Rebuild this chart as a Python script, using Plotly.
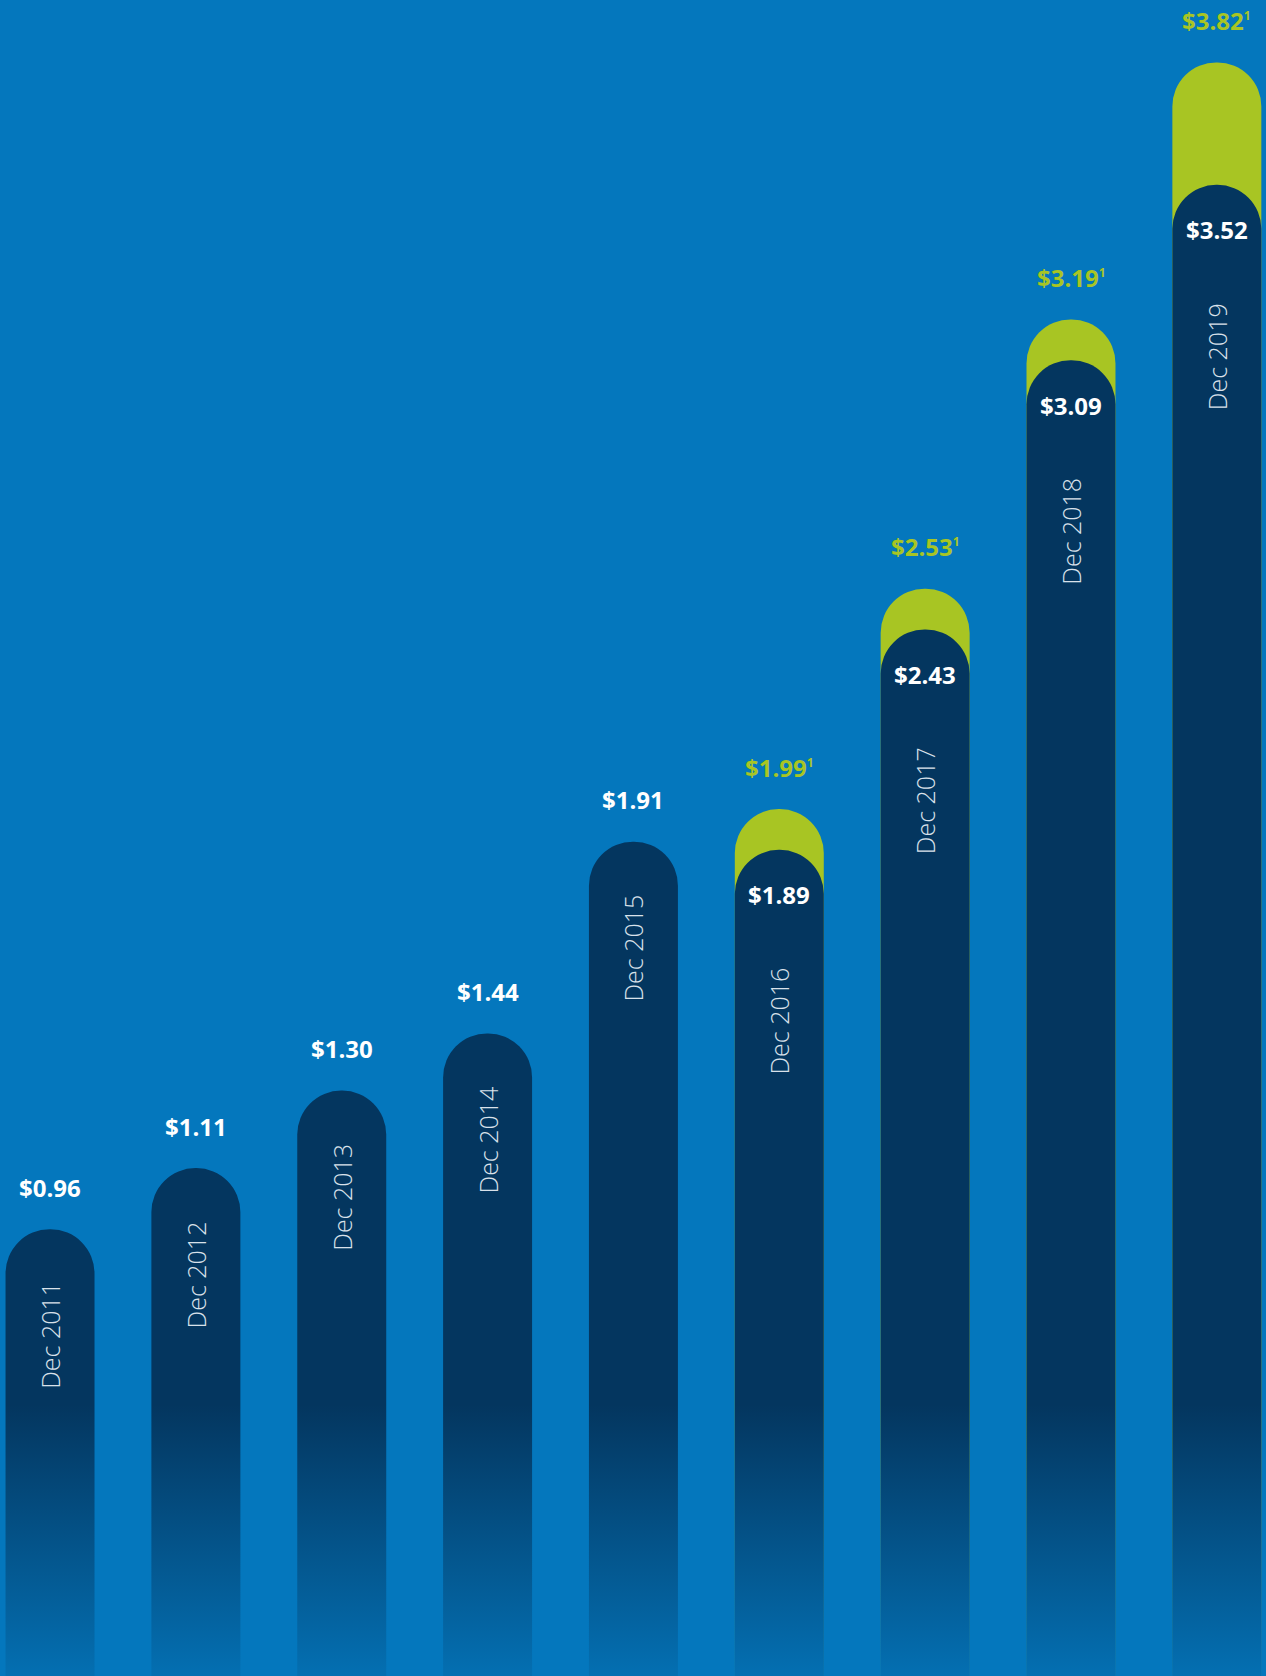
import plotly.graph_objects as go

# ---- data ----
categories = ["Dec 2011", "Dec 2012", "Dec 2013", "Dec 2014", "Dec 2015",
              "Dec 2016", "Dec 2017", "Dec 2018", "Dec 2019"]
reported = [0.96, 1.11, 1.30, 1.44, 1.91, 1.89, 2.43, 3.09, 3.52]
adjusted = [None, None, None, None, None, 1.99, 2.53, 3.19, 3.82]

# ---- style ----
BG = "#0477BD"
NAVY = "#04365F"
GREEN = "#A8C523"
W, H = 1266, 1676
Y_MIN, Y_MAX = -0.135, 3.973
X_MIN, X_MAX = -0.343, 8.337
BAR_W = 0.61
BASE = -1.0
FONT = "Open Sans"

idx = list(range(len(categories)))

fig = go.Figure()

# green (adjusted) bars behind
gx = [i for i, v in zip(idx, adjusted) if v is not None]
gy = [v for v in adjusted if v is not None]
fig.add_trace(go.Bar(
    x=gx, y=[v - BASE for v in gy], base=BASE, width=BAR_W,
    marker=dict(color=GREEN, line=dict(width=0), cornerradius="50%"),
    hoverinfo="skip", showlegend=False,
))
# navy bars
fig.add_trace(go.Bar(
    x=idx, y=[v - BASE for v in reported], base=BASE, width=BAR_W,
    marker=dict(color=NAVY, line=dict(width=0), cornerradius="50%"),
    hoverinfo="skip", showlegend=False,
))

# bottom fade overlay (gradient toward background)
fade_top = 0.53
fig.add_trace(go.Scatter(
    x=[X_MIN, X_MAX, X_MAX, X_MIN, X_MIN],
    y=[Y_MIN, Y_MIN, fade_top, fade_top, Y_MIN],
    mode="lines", line=dict(width=0), fill="toself",
    fillgradient=dict(type="vertical",
                      colorscale=[[0, "rgba(4,119,189,0.88)"],
                                  [1, "rgba(4,119,189,0)"]]),
    hoverinfo="skip", showlegend=False,
))

SUP = "<sup><span style='font-size:12px'>1</span></sup>"
annotations = []
for i, cat, r, a in zip(idx, categories, reported, adjusted):
    if a is None:
        annotations.append(dict(
            x=i, y=r, text=f"${r:.2f}", showarrow=False, yanchor="middle",
            yshift=42, font=dict(family=FONT, size=24, color="white", weight="bold")))
        annotations.append(dict(
            x=i, y=r, text=cat, showarrow=False, textangle=-90,
            yanchor="top", yshift=-51,
            font=dict(family=FONT, size=25, color="#D9E1EA", weight=300)))
    else:
        annotations.append(dict(
            x=i, y=a, text=f"${a:.2f}{SUP}", showarrow=False, yanchor="middle",
            yshift=42, font=dict(family=FONT, size=24, color=GREEN, weight="bold")))
        annotations.append(dict(
            x=i, y=r, text=f"${r:.2f}", showarrow=False, yanchor="middle",
            yshift=-45, font=dict(family=FONT, size=24, color="white", weight="bold")))
        annotations.append(dict(
            x=i, y=r, text=cat, showarrow=False, textangle=-90,
            yanchor="top", yshift=-116,
            font=dict(family=FONT, size=25, color="#D9E1EA", weight=300)))

fig.update_layout(
    width=W, height=H,
    margin=dict(l=0, r=0, t=0, b=0),
    paper_bgcolor=BG, plot_bgcolor=BG,
    barmode="overlay",
    xaxis=dict(range=[X_MIN, X_MAX], visible=False, fixedrange=True),
    yaxis=dict(range=[Y_MIN, Y_MAX], visible=False, fixedrange=True),
    annotations=annotations,
    showlegend=False,
)

fig.write_html("out.html", config={"displayModeBar": False})
